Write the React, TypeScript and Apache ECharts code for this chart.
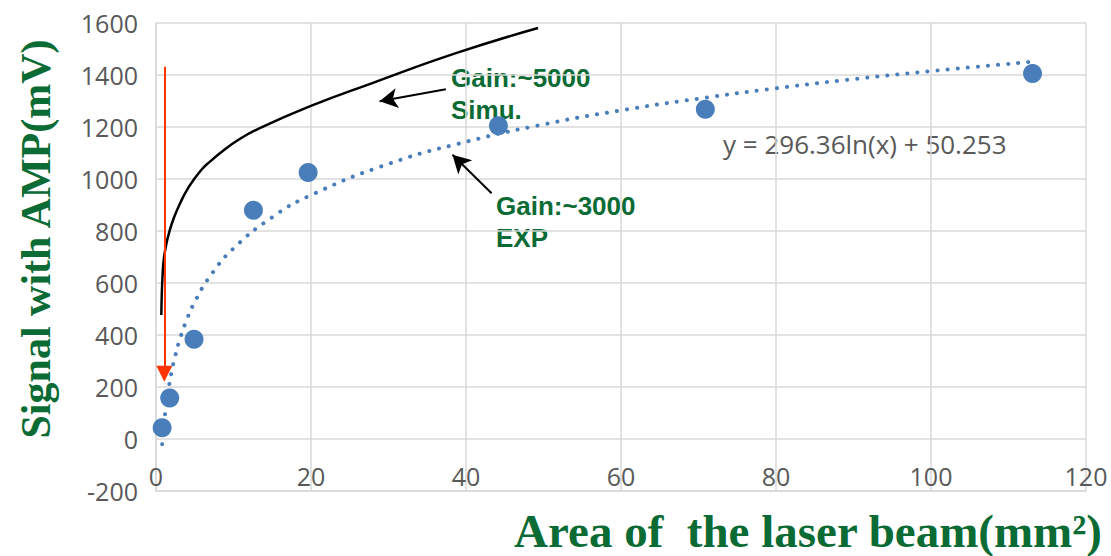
import React, { useEffect, useRef } from "react";
import * as echarts from "echarts";

// Measured points: beam area (mm^2) vs signal with AMP (mV)
const areaValues = [0.79, 1.77, 4.91, 12.57, 19.63, 44.18, 70.88, 113.1];
const signalValues = [43, 158, 384, 880, 1025, 1205, 1268, 1406];

// Dotted fitted trendline
const trendX = [0.79, 0.9, 1, 1.2, 1.5, 2, 2.5, 3, 4, 5, 7, 10, 15, 20, 30, 40, 50, 60, 70, 80, 90, 100, 113.1];
const trendY = [-20, 19, 50, 104, 170, 256, 322, 376, 461, 527, 627, 733, 853, 938, 1058, 1143, 1210, 1264, 1309, 1349, 1384, 1415, 1451];

// Simulation curve (black solid)
const simuX = [0.69, 0.75, 0.85, 1.0, 1.3, 1.7, 2.3, 3.1, 4.2, 5.7, 7.0, 8.7, 10.5, 13, 19.9, 28, 38.8, 49.3];
const simuY = [477, 560, 630, 690, 745, 795, 850, 906, 968, 1030, 1068, 1110, 1148, 1190, 1280, 1370, 1485, 1581];

const xTickMin = 0;
const xTickMax = 120;
const xTickStep = 20;
const yTickMin = -200;
const yTickMax = 1600;
const yTickStep = 200;

const equationText = "y = 296.36ln(x) + 50.253";
const simuLabel = "Gain:~5000\nSimu.";
const expLabel = "Gain:~3000\nEXP";
const xTitle = "Area of  the laser beam(mm²)";
const yTitle = "Signal with AMP(mV)";

const GREEN = "#0b6b35";
const GRID = "#d9d9d9";
const TICK = "#595959";
const BLUE = "#4a7ebb";

export default function App() {
  const ref = useRef<HTMLDivElement>(null);

  useEffect(() => {
    if (!ref.current) return;
    const chart = echarts.init(ref.current, undefined, { renderer: "svg" });
    const tickFont = { color: TICK, fontSize: 25, fontFamily: '"Open Sans", sans-serif', formatter: (v: number) => String(v) };
    chart.setOption({
      animation: false,
      backgroundColor: "#ffffff",
      grid: { left: 156, right: 25, top: 23, bottom: 65, containLabel: false },
      xAxis: {
        type: "value",
        min: xTickMin,
        max: xTickMax,
        interval: xTickStep,
        axisLine: { show: true, onZero: false, lineStyle: { color: GRID, width: 1.5 } },
        axisTick: { show: false },
        splitLine: { show: true, lineStyle: { color: GRID, width: 1.5 } },
        axisLabel: { inside: true, margin: 3, ...tickFont },
      },
      yAxis: {
        type: "value",
        min: yTickMin,
        max: yTickMax,
        interval: yTickStep,
        axisLine: { show: true, lineStyle: { color: GRID, width: 1.5 } },
        axisTick: { show: false },
        splitLine: { show: true, lineStyle: { color: GRID, width: 1.5 } },
        axisLabel: { margin: 18, ...tickFont },
      },
      series: [
        {
          name: "Trend",
          type: "line",
          data: trendX.map((x, i) => [x, trendY[i]]),
          showSymbol: false,
          smooth: true,
          silent: true,
          z: 2,
          lineStyle: { color: BLUE, width: 4, type: [0.1, 10], cap: "round" },
        },
        {
          name: "Simu.",
          type: "line",
          data: simuX.map((x, i) => [x, simuY[i]]),
          showSymbol: false,
          smooth: true,
          silent: true,
          z: 3,
          lineStyle: { color: "#000000", width: 2.5 },
          markLine: {
            silent: true,
            animation: false,
            label: { show: false },
            symbol: ["none", "arrow"],
            data: [
              [
                { coord: [37.4, 1345], lineStyle: { color: "#000", width: 2, type: "solid" } },
                { coord: [28.85, 1299], symbol: "arrow", symbolSize: [15, 18], lineStyle: { color: "#000", width: 2, type: "solid" } },
              ],
              [
                { coord: [43.3, 945], lineStyle: { color: "#000", width: 2, type: "solid" } },
                { coord: [38.25, 1093], symbol: "arrow", symbolSize: [15, 18], lineStyle: { color: "#000", width: 2, type: "solid" } },
              ],
              [
                { coord: [1.07, 1432], lineStyle: { color: "#ff3300", width: 2, type: "solid" }, itemStyle: { color: "#ff3300" } },
                { coord: [1.07, 251], symbol: "triangle", symbolSize: [16, 16], lineStyle: { color: "#ff3300", width: 2, type: "solid" }, itemStyle: { color: "#ff3300" } },
              ],
            ],
          },
        },
        {
          name: "EXP",
          type: "scatter",
          data: areaValues.map((x, i) => [x, signalValues[i]]),
          symbolSize: 19,
          z: 4,
          itemStyle: { color: BLUE, opacity: 1 },
        },
      ],
      graphic: [
        {
          type: "text",
          x: 451,
          y: 62,
          style: { text: simuLabel, fill: GREEN, font: 'bold 26px "Liberation Sans", Arial, sans-serif', lineHeight: 32, align: "left", verticalAlign: "top" },
        },
        {
          type: "text",
          x: 496,
          y: 190,
          style: { text: expLabel, fill: GREEN, font: 'bold 26px "Liberation Sans", Arial, sans-serif', lineHeight: 32, align: "left", verticalAlign: "top" },
        },
        {
          type: "text",
          x: 723,
          y: 129,
          style: { text: equationText, fill: TICK, font: '26px "Open Sans", sans-serif', lineHeight: 30, align: "left", verticalAlign: "top" },
        },
        {
          type: "text",
          x: 36,
          y: 239,
          rotation: Math.PI / 2,
          style: { text: yTitle, fill: GREEN, font: 'bold 42px "Liberation Serif", serif', align: "center", verticalAlign: "middle" },
        },
        {
          type: "text",
          x: 1102,
          y: 531,
          style: { text: xTitle, fill: GREEN, font: 'bold 47px "Liberation Serif", serif', align: "right", verticalAlign: "middle" },
        },
      ],
    });
    return () => chart.dispose();
  }, []);

  return <div ref={ref} style={{ position: "absolute", left: 0, top: 0, width: 1111, height: 556 }} />;
}
